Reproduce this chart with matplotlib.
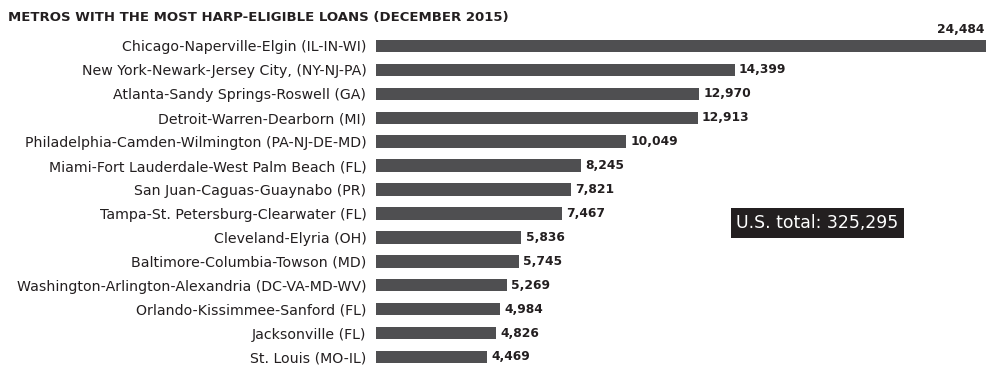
import matplotlib.pyplot as plt

plt.rcParams['font.family'] = ['DejaVu Sans']

metros = ['Chicago-Naperville-Elgin (IL-IN-WI)',
          'New York-Newark-Jersey City, (NY-NJ-PA)',
          'Atlanta-Sandy Springs-Roswell (GA)',
          'Detroit-Warren-Dearborn (MI)',
          'Philadelphia-Camden-Wilmington (PA-NJ-DE-MD)',
          'Miami-Fort Lauderdale-West Palm Beach (FL)',
          'San Juan-Caguas-Guaynabo (PR)',
          'Tampa-St. Petersburg-Clearwater (FL)',
          'Cleveland-Elyria (OH)',
          'Baltimore-Columbia-Towson (MD)',
          'Washington-Arlington-Alexandria (DC-VA-MD-WV)',
          'Orlando-Kissimmee-Sanford (FL)',
          'Jacksonville (FL)',
          'St. Louis (MO-IL)']
loans = [24484, 14399, 12970, 12913, 10049, 8245, 7821, 7467,
         5836, 5745, 5269, 4984, 4826, 4469]
title = 'METROS WITH THE MOST HARP-ELIGIBLE LOANS (DECEMBER 2015)'
total_text = 'U.S. total: 325,295'

bar_color = '#4f4f51'
text_color = '#231f20'

fig = plt.figure(figsize=(10, 3.79), dpi=100)
ax = fig.add_axes([0.376, 0.0265, 0.61, 0.8837])

y = range(len(metros))
ax.barh(y, loans, height=0.52, color=bar_color)
ax.set_xlim(0, max(loans))
ax.set_ylim(len(metros) - 0.5, -0.5)

ax.set_yticks(list(y))
ax.set_yticklabels(metros, fontsize=10.2, color=text_color)
ax.tick_params(axis='y', length=0, pad=7)
ax.set_xticks([])
for s in ax.spines.values():
    s.set_visible(False)

# value labels: the longest bar gets its label on top, the rest at the bar end
for i, v in enumerate(loans):
    if i == 0:
        ax.annotate(f'{v:,}', (v, i), xytext=(-1, 12), textcoords='offset points',
                    ha='right', va='center', fontsize=8.8, fontweight='semibold',
                    color=text_color)
    else:
        ax.annotate(f'{v:,}', (v, i), xytext=(3, 0), textcoords='offset points',
                    ha='left', va='center', fontsize=8.8, fontweight='semibold',
                    color=text_color)

fig.text(0.008, 0.955, title, fontsize=9.5, fontweight='bold',
         color=text_color, ha='left', va='center')

fig.text(0.8175, 0.4116, total_text, fontsize=12.4, color='white',
         ha='center', va='center',
         bbox=dict(boxstyle='square,pad=0.33', fc='#231f20', ec='none'))

fig.savefig('out.png', dpi=100)
